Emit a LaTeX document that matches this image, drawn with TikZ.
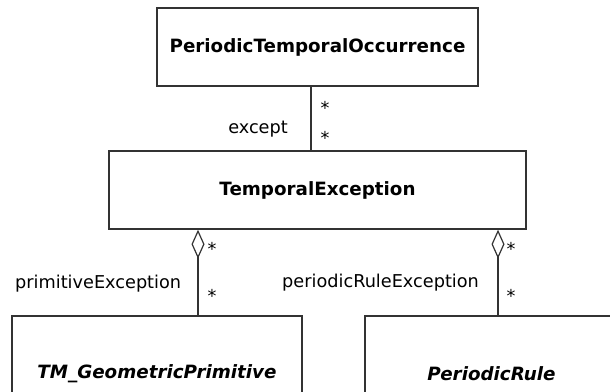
\documentclass[tikz,border=0pt]{standalone}
\usepackage{fontspec}
\setmainfont{DejaVu Sans}
\usetikzlibrary{arrows.meta}
\tikzset{
  classbox/.style={draw=black!80, line width=1.4pt, fill=white, inner sep=0pt,
    font=\fontsize{18.3}{22}\selectfont\bfseries},
  abstractbox/.style={classbox, font=\fontsize{18.3}{22}\selectfont\bfseries\itshape},
  assoc/.style={draw=black!80, line width=1.2pt},
  aggr/.style={assoc, -{Diamond[open, length=29pt, width=13pt, line width=1.2pt]}},
  rolelabel/.style={inner sep=0pt, font=\fontsize{17.7}{20}\selectfont},
  mult/.style={inner sep=0pt, anchor=base, font=\fontsize{17.7}{20}\selectfont}
}
\begin{document}
\begin{tikzpicture}[x=1pt, y=-1pt]
  \useasboundingbox (0,0) rectangle (610,391);
  \clip (0,0) rectangle (610,391);
  \fill[white] (0,0) rectangle (610,391);

  % classes
  \node[classbox, minimum width=321pt, minimum height=78pt] (occ) at (317.5,47) {PeriodicTemporalOccurrence};
  \node[classbox, minimum width=417pt, minimum height=78pt] (exc) at (317.5,190) {TemporalException};
  \node[abstractbox, minimum width=290pt, minimum height=116pt] (prim) at (157,374) {TM\_GeometricPrimitive};
  \node[abstractbox, minimum width=253pt, minimum height=116pt] (rule) at (491.5,374) {PeriodicRule};

  % association occurrence -- exception
  \draw[assoc] ([xshift=-6.5pt]occ.south) -- ([xshift=-6.5pt]exc.north);
  \node[rolelabel, anchor=base east] (lexcept) at (288,133) {except};
  \node[mult] (m1) at (325,114.4) {*};
  \node[mult] (m2) at (325,144.4) {*};

  % aggregations below the exception class
  \draw[aggr] ([xshift=41pt]prim.north) -- ([xshift=-119.5pt]exc.south);
  \draw[aggr] ([xshift=6.5pt]rule.north) -- ([xshift=180.5pt]exc.south);

  \node[rolelabel, anchor=base west] (lprim) at (15,288) {primitiveException};
  \node[mult] (m3) at (212,255.4) {*};
  \node[mult] (m4) at (212,302.4) {*};

  \node[rolelabel, anchor=base west] (lrule) at (282,287) {periodicRuleException};
  \node[mult] (m5) at (511,255.4) {*};
  \node[mult] (m6) at (511,302.4) {*};
\end{tikzpicture}
\end{document}
